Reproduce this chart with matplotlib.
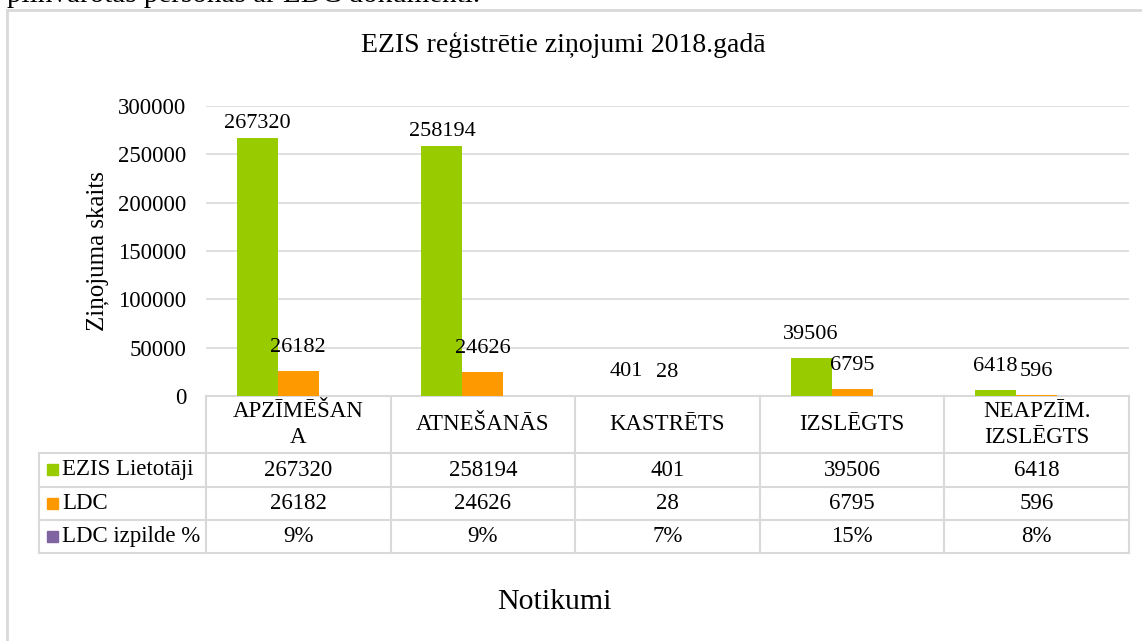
import numpy as np
import matplotlib
matplotlib.use("Agg")
import matplotlib.pyplot as plt
from matplotlib.patches import Rectangle

plt.rcParams['font.family'] = ['Liberation Serif', 'DejaVu Serif']

# data
categories = ['APZĪMĒŠAN\nA', 'ATNEŠANĀS', 'KASTRĒTS', 'IZSLĒGTS', 'NEAPZĪM.\nIZSLĒGTS']
ezis = [267320, 258194, 401, 39506, 6418]
ldc = [26182, 24626, 28, 6795, 596]
izpilde = [9, 9, 7, 15, 8]  # %
series_names = ['EZIS Lietotāji', 'LDC', 'LDC izpilde %']
colors = ['#99cc00', '#ff9900', '#8064a2']
yticks = [0, 50000, 100000, 150000, 200000, 250000, 300000]

W, H = 1142, 641
fig = plt.figure(figsize=(W / 100, H / 100), dpi=100)
grey = '#d9d9d9'
fs = 16

# frame of the chart object and the cut-off line of text above it
fig.patches.append(Rectangle((7 / W, -0.05), 1.1, (H - 10) / H + 0.05,
                             transform=fig.transFigure, fill=False,
                             edgecolor=grey, lw=2))
fig.text(7 / W, 1 - 2 / H, 'pilnvarotas personas ar LDC dokumenti.',
         fontsize=21, va='baseline', ha='left')

left, right, top, bottom = 206, 1129, 106, 396
ax = fig.add_axes([left / W, 1 - bottom / H, (right - left) / W, (bottom - top) / H])

x = np.arange(len(categories))
bw = 0.222
ax.bar(x - bw, ezis, bw, color=colors[0], zorder=3)
ax.bar(x, ldc, bw, color=colors[1], zorder=3)
ax.bar(x + bw, [p / 100 for p in izpilde], bw, color=colors[2], zorder=3)

ax.set_xlim(-0.5, len(categories) - 0.5)
ax.set_ylim(0, 300000)
ax.set_yticks(yticks)
ax.set_yticklabels([str(t) for t in yticks], fontsize=fs + 0.5)
ax.set_xticks([])
ax.tick_params(axis='y', length=0, pad=14)
ax.yaxis.grid(True, color=grey, lw=1.2, zorder=0)
for s in ['left', 'right', 'top', 'bottom']:
    ax.spines[s].set_visible(False)

# data labels
for vals, off in ((ezis, -bw), (ldc, 0)):
    for i, v in enumerate(vals):
        dy = 15000 if v > 250000 else 24500
        ax.text(i + off, v + dy, str(v), ha='center', va='center', fontsize=fs)

fig.text(563 / W, 1 - 45 / H, 'EZIS reģistrētie ziņojumi 2018.gadā',
         ha='center', va='center', fontsize=20)
ax.set_ylabel('Ziņojuma skaits', fontsize=18, labelpad=7)

# data table under the axis
ph = bottom - top
def ay(py):
    return (bottom - py) / ph

pw = right - left
def axx(px):
    return (px - left) / pw

rows_y = [396, 453, 487, 520, 553]
tab_left = 39
kw = dict(transform=ax.transAxes, color=grey, lw=1.5, clip_on=False)
ax.plot([0, 1], [ay(rows_y[0])] * 2, **kw)
for ry in rows_y[1:]:
    ax.plot([axx(tab_left), 1], [ay(ry)] * 2, **kw)
ax.plot([axx(tab_left)] * 2, [ay(rows_y[1]), ay(rows_y[-1])], **kw)
n = len(categories)
for i in range(n + 1):
    ax.plot([i / n] * 2, [ay(rows_y[0]), ay(rows_y[-1])], **kw)

for i, c in enumerate(categories):
    ax.text((i + 0.5) / n, ay((rows_y[0] + rows_y[1]) / 2), c, transform=ax.transAxes,
            ha='center', va='center', fontsize=fs + 0.5, linespacing=1.3)

row_vals = [[str(v) for v in ezis], [str(v) for v in ldc], ['%d%%' % p for p in izpilde]]
for r in range(3):
    yc = ay((rows_y[r + 1] + rows_y[r + 2]) / 2)
    for i, s in enumerate(row_vals[r]):
        ax.text((i + 0.5) / n, yc, s, transform=ax.transAxes,
                ha='center', va='center', fontsize=fs + 0.5)
    ax.add_patch(Rectangle((axx(47), yc - 5 / ph), 11 / pw, 11 / ph,
                           transform=ax.transAxes, color=colors[r], clip_on=False))
    ax.text(axx(62), yc, series_names[r], transform=ax.transAxes,
            ha='left', va='center', fontsize=fs + 0.5)

fig.text(554 / W, 1 - 602 / H, 'Notikumi', ha='center', va='center', fontsize=21.5)

fig.savefig('out.png', dpi=100)
